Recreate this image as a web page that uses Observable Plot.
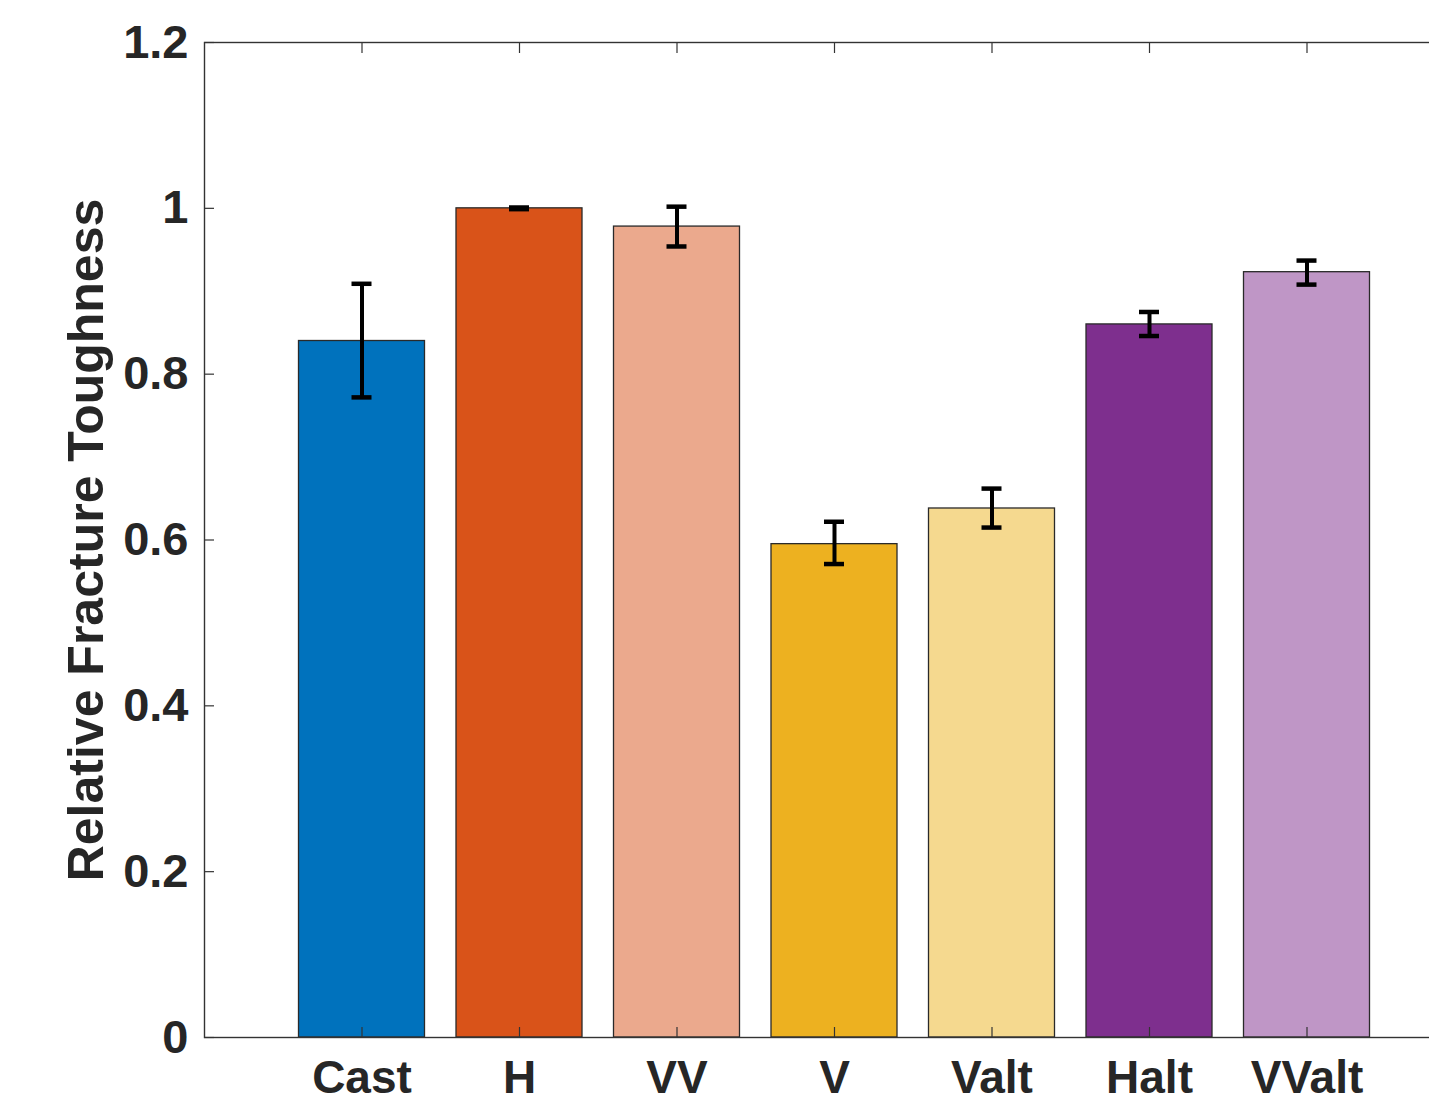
<!DOCTYPE html>
<html>
<head>
<meta charset="utf-8">
<script src="https://cdn.jsdelivr.net/npm/d3@7"></script>
<script src="https://cdn.jsdelivr.net/npm/@observablehq/plot@0.6"></script>
<style>
  html, body { margin: 0; padding: 0; background: #fff; overflow: hidden; }
  #chart svg { display: block; }
</style>
</head>
<body>
<div id="chart"></div>
<script>
const categories = ["Cast", "H", "VV", "V", "Valt", "Halt", "VValt"];
const values     = [0.840, 1.000, 0.978, 0.595, 0.638, 0.860, 0.923];
const errLow     = [0.772, 0.999, 0.954, 0.571, 0.615, 0.846, 0.908];
const errHigh    = [0.909, 1.001, 1.002, 0.622, 0.662, 0.875, 0.937];
const colors     = ["#0072BD", "#D95319", "#EBA98D", "#EDB120", "#F5D98F", "#7E2F8E", "#BF96C6"];
const yTicks     = [0, 0.2, 0.4, 0.6, 0.8, 1, 1.2];

const data = categories.map((c, i) => ({cat: c, v: values[i], lo: errLow[i], hi: errHigh[i], color: colors[i]}));

const ink = "#262626";
const font = "'Liberation Sans', Arial, Helvetica, sans-serif";

const chart = Plot.plot({
  width: 1429,
  height: 1103,
  marginLeft: 204,
  marginRight: -35,
  marginTop: 42,
  marginBottom: 66,
  style: {fontFamily: font, fontWeight: "bold", fontSize: "46px", color: ink, background: "#fff"},
  x: {type: "band", domain: categories, range: [204, 1464], round: false, paddingInner: 0.2, paddingOuter: 0.6, label: null},
  y: {domain: [0, 1.2], range: [1037, 42], label: null},
  marks: [
    Plot.barY(data, {x: "cat", y: "v", fill: "color", stroke: "#2a2a2a", strokeWidth: 1.3}),
    Plot.ruleX(data, {x: "cat", y1: "lo", y2: "hi", stroke: "#000", strokeWidth: 4}),
    Plot.tickY(data, {x: "cat", y: "lo", stroke: "#000", strokeWidth: 4.5, insetLeft: 53, insetRight: 53}),
    Plot.tickY(data, {x: "cat", y: "hi", stroke: "#000", strokeWidth: 4.5, insetLeft: 53, insetRight: 53}),
    Plot.frame({stroke: "#333", strokeWidth: 1.4}),
    Plot.axisY(yTicks, {anchor: "left", tickSize: -10, tickPadding: 26, stroke: "#333", strokeWidth: 1.2,
      tickFormat: d => String(d), fontSize: 47, fontWeight: "bold", fill: ink,
      label: "Relative Fracture Toughness", labelAnchor: "center", labelOffset: 137, labelArrow: "none"}),
    Plot.axisX({anchor: "bottom", tickSize: -10, tickPadding: 33, stroke: "#333", strokeWidth: 1.2,
      fontSize: 46, fontWeight: "bold", fill: ink, label: null}),
    Plot.axisX({anchor: "top", tickSize: -10, tickFormat: () => "", stroke: "#333", strokeWidth: 1.2, label: null})
  ]
});

// enlarge y-axis title to match reference
chart.querySelectorAll("[aria-label='y-axis label'] text").forEach(t => t.setAttribute("font-size", 50));

document.getElementById("chart").appendChild(chart);
</script>
</body>
</html>
